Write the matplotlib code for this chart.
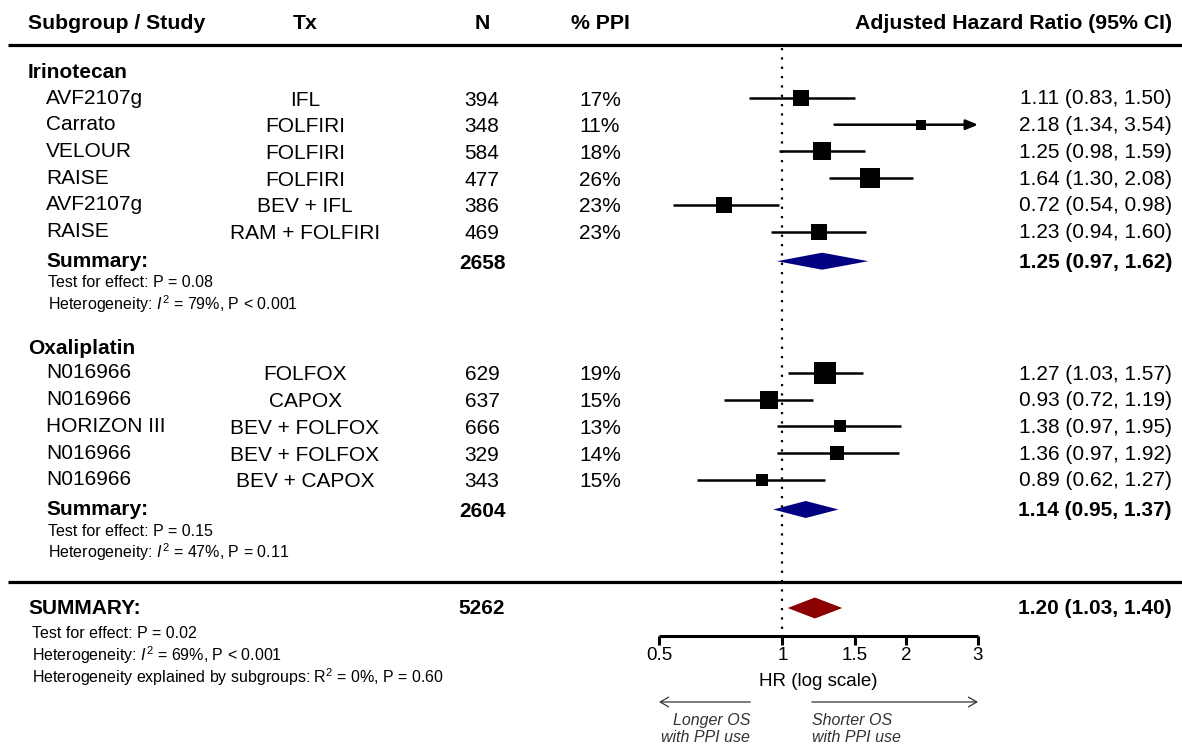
import numpy as np
import matplotlib
matplotlib.use("Agg")
import matplotlib.pyplot as plt

plt.rcParams['font.family'] = ['Liberation Sans', 'DejaVu Sans']
plt.rcParams['mathtext.fontset'] = 'custom'
plt.rcParams['mathtext.rm'] = 'Liberation Sans'
plt.rcParams['mathtext.it'] = 'Liberation Sans:italic'
plt.rcParams['mathtext.bf'] = 'Liberation Sans:bold'

# ---- data ----
iri_study = ['AVF2107g', 'Carrato', 'VELOUR', 'RAISE', 'AVF2107g', 'RAISE']
iri_tx = ['IFL', 'FOLFIRI', 'FOLFIRI', 'FOLFIRI', 'BEV + IFL', 'RAM + FOLFIRI']
iri_n = [394, 348, 584, 477, 386, 469]
iri_ppi = [17, 11, 18, 26, 23, 23]
iri_hr = [1.11, 2.18, 1.25, 1.64, 0.72, 1.23]
iri_lo = [0.83, 1.34, 0.98, 1.30, 0.54, 0.94]
iri_hi = [1.50, 3.54, 1.59, 2.08, 0.98, 1.60]
iri_summary = [1.25, 0.97, 1.62]
iri_tests = ['Test for effect: P = 0.08',
             r'Heterogeneity: $\mathit{I}^2$ = 79%, P < 0.001']

oxa_study = ['N016966', 'N016966', 'HORIZON III', 'N016966', 'N016966']
oxa_tx = ['FOLFOX', 'CAPOX', 'BEV + FOLFOX', 'BEV + FOLFOX', 'BEV + CAPOX']
oxa_n = [629, 637, 666, 329, 343]
oxa_ppi = [19, 15, 13, 14, 15]
oxa_hr = [1.27, 0.93, 1.38, 1.36, 0.89]
oxa_lo = [1.03, 0.72, 0.97, 0.97, 0.62]
oxa_hi = [1.57, 1.19, 1.95, 1.92, 1.27]
oxa_summary = [1.14, 0.95, 1.37]
oxa_tests = ['Test for effect: P = 0.15',
             r'Heterogeneity: $\mathit{I}^2$ = 47%, P = 0.11']

all_summary = [1.20, 1.03, 1.40]
all_tests = ['Test for effect: P = 0.02',
             r'Heterogeneity: $\mathit{I}^2$ = 69%, P < 0.001',
             r'Heterogeneity explained by subgroups: R$^2$ = 0%, P = 0.60']

xticks = [0.5, 1, 1.5, 2, 3]
xticklabels = ['0.5', '1', '1.5', '2', '3']

# ---- layout (pixel units) ----
W, H = 1182, 746
X_MIN, X_MAX = 0.5, 3.0
PX_LO, PX_HI = 659, 978
FS, FS_HEAD, FS_SMALL = 15, 15.3, 11.5
DY = 2  # text baseline nudge

fig = plt.figure(figsize=(W / 100, H / 100), dpi=100)

# text layer in pixel coords
tx = fig.add_axes([0, 0, 1, 1])
tx.set_xlim(0, W)
tx.set_ylim(H, 0)
tx.axis('off')

# forest layer: log x scale, same pixel rows
ax = fig.add_axes([0, 0, 1, 1])
ax.set_xscale('log')
ppl = (PX_HI - PX_LO) / np.log(X_MAX / X_MIN)
ax.set_xlim(X_MIN * np.exp(-PX_LO / ppl), X_MAX * np.exp((W - PX_HI) / ppl))
ax.set_ylim(H, 0)
ax.axis('off')
ax.patch.set_visible(False)


def put(x, y, s, **kw):
    kw.setdefault('fontsize', FS)
    kw.setdefault('va', 'center')
    tx.text(x, y + DY, s, **kw)


# header
put(28, 21.5, 'Subgroup / Study', fontweight='bold', fontsize=FS_HEAD)
put(305, 21.5, 'Tx', fontweight='bold', ha='center', fontsize=FS_HEAD)
put(482, 21.5, 'N', fontweight='bold', ha='center', fontsize=FS_HEAD)
put(600, 21.5, '% PPI', fontweight='bold', ha='center', fontsize=FS_HEAD)
put(1172, 21.5, 'Adjusted Hazard Ratio (95% CI)', fontweight='bold', ha='right',
    fontsize=FS_HEAD)
tx.plot([8, W], [45, 45], color='black', lw=2.3, solid_capstyle='butt')
tx.plot([8, W], [582, 582], color='black', lw=2.3, solid_capstyle='butt')

# null line
ax.plot([1, 1], [48, 636], color='black', lw=1.6, linestyle=(0, (1, 3.2)),
        dash_capstyle='butt')


def hr_text(v):
    return f'{v[0]:.2f} ({v[1]:.2f}, {v[2]:.2f})'


def draw_group(name, y0, study, trt, n, ppi, hr, lo, hi, summ, tests, pitch=26.7):
    put(28, y0, name, fontweight='bold')
    for k in range(len(study)):
        y = y0 + 27 + pitch * k
        put(46, y - 2, study[k])
        put(305, y, trt[k], ha='center')
        put(482, y, str(n[k]), ha='center')
        put(600, y, f'{ppi[k]}%', ha='center')
        put(1172, y - 1, hr_text((hr[k], lo[k], hi[k])), ha='right')
        # box side follows inverse-variance weight
        se = np.log(hi[k] / lo[k]) / (2 * 1.96)
        side = 2.3 / se * 0.72
        if hi[k] > X_MAX:
            ax.annotate('', xy=(X_MAX, y), xytext=(lo[k], y),
                        arrowprops=dict(arrowstyle='-|>,head_length=0.6,head_width=0.25',
                                        lw=1.8, color='black', mutation_scale=12,
                                        shrinkA=0, shrinkB=0))
        else:
            ax.plot([lo[k], hi[k]], [y, y], color='black', lw=1.8, solid_capstyle='butt')
        ax.plot(hr[k], y, marker='s', ms=side, color='black', mew=0)
    ys = y0 + 27 + pitch * len(study) + 3
    put(46, ys - 2, 'Summary:', fontweight='bold')
    put(482, ys, str(sum(n)), fontweight='bold', ha='center')
    put(1172, ys - 1, hr_text(summ), fontweight='bold', ha='right')
    ax.fill([summ[1], summ[0], summ[2], summ[0]], [ys, ys - 8.5, ys, ys + 8.5],
            color='#000080', lw=0)
    for j, t in enumerate(tests):
        put(48, ys + 19.5 + 21.5 * j, t, fontsize=FS_SMALL)
    return sum(n)


n1 = draw_group('Irinotecan', 71, iri_study, iri_tx, iri_n, iri_ppi,
                iri_hr, iri_lo, iri_hi, iri_summary, iri_tests)
n2 = draw_group('Oxaliplatin', 346, oxa_study, oxa_tx, oxa_n, oxa_ppi,
                oxa_hr, oxa_lo, oxa_hi, oxa_summary, oxa_tests)

# overall summary
put(28, 606, 'SUMMARY:', fontweight='bold')
put(482, 607, str(n1 + n2), fontweight='bold', ha='center')
put(1172, 606, hr_text(all_summary), fontweight='bold', ha='right')
ax.fill([all_summary[1], all_summary[0], all_summary[2], all_summary[0]],
        [608, 597.5, 608, 618.5], color='#8B0000', lw=0)
for j, t in enumerate(all_tests):
    put(32, 631 + 22 * j, t, fontsize=FS_SMALL)

# HR axis
ax.plot([X_MIN, X_MAX], [636, 636], color='black', lw=2.2, solid_capstyle='butt')
for t, lab in zip(xticks, xticklabels):
    ax.plot([t, t], [636, 645], color='black', lw=2.2, solid_capstyle='butt')
    ax.text(t, 656, lab, fontsize=13.5, ha='center', va='center')
ax.text(np.sqrt(X_MIN * X_MAX), 682, 'HR (log scale)', fontsize=13.5,
        ha='center', va='center')

# direction arrows
arrow_kw = dict(arrowstyle='->,head_length=0.6,head_width=0.35', lw=0.9,
                color='#333333', shrinkA=0, shrinkB=0)
ax.annotate('', xy=(X_MIN, 702), xytext=(0.835, 702), arrowprops=arrow_kw)
ax.annotate('', xy=(X_MAX, 702), xytext=(1.18, 702), arrowprops=arrow_kw)
ax.text(0.835, 729, 'Longer OS\nwith PPI use', fontsize=11.5, style='italic',
        ha='right', va='center', color='#333333', linespacing=1.2)
ax.text(1.18, 729, 'Shorter OS\nwith PPI use', fontsize=11.5, style='italic',
        ha='left', va='center', color='#333333', linespacing=1.2)

fig.savefig('out.png', dpi=100, facecolor='white')
